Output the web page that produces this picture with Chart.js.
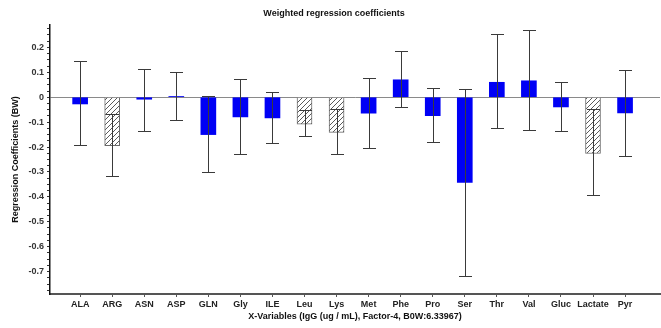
<!DOCTYPE html>
<html>
<head>
<meta charset="utf-8">
<script src="https://cdn.jsdelivr.net/npm/chart.js@4/dist/chart.umd.min.js"></script>
<style>
  html, body { margin: 0; padding: 0; background: #fff; }
  #wrap { width: 661px; height: 328px; position: relative; }
</style>
</head>
<body>
<div id="wrap"><canvas id="chart" width="661" height="328"></canvas></div>
<script>
// categories on the x axis
var variableNames = ['ALA', 'ARG', 'ASN', 'ASP', 'GLN', 'Gly', 'ILE', 'Leu', 'Lys',
    'Met', 'Phe', 'Pro', 'Ser', 'Thr', 'Val', 'Gluc', 'Lactate', 'Pyr'];

// weighted regression coefficients (bar heights)
var coefValues = [-0.027, -0.194, -0.008, 0.003, -0.150, -0.079, -0.083, -0.108, -0.141,
    -0.064, 0.070, -0.074, -0.342, 0.060, 0.066, -0.039, -0.226, -0.063];

// error bar ends
var errHigh = [0.145, -0.067, 0.115, 0.102, 0.003, 0.074, 0.023, -0.051, -0.049,
    0.078, 0.185, 0.038, 0.034, 0.253, 0.268, 0.060, -0.049, 0.111];
var errLow = [-0.193, -0.315, -0.134, -0.090, -0.300, -0.229, -0.185, -0.155, -0.228,
    -0.205, -0.041, -0.181, -0.718, -0.125, -0.131, -0.135, -0.393, -0.236];

// true = hatched (non significant) bar
var isHatched = [false, true, false, false, false, false, false, true, true,
    false, false, false, false, false, false, false, true, false];

var yTickLabels = [0.2, 0.1, 0, -0.1, -0.2, -0.3, -0.4, -0.5, -0.6, -0.7];

var fontFamily = '"Liberation Sans", Arial, sans-serif';

function makeHatch() {
    var c = document.createElement('canvas');
    c.width = 5;
    c.height = 5;
    var g = c.getContext('2d');
    g.fillStyle = '#ffffff';
    g.fillRect(0, 0, 5, 5);
    g.strokeStyle = '#5a5a5a';
    g.lineWidth = 1;
    g.beginPath();
    g.moveTo(-1, 6); g.lineTo(6, -1);
    g.moveTo(-1, 1); g.lineTo(1, -1);
    g.moveTo(4, 6); g.lineTo(6, 4);
    g.stroke();
    return g.createPattern(c, 'repeat');
}

var ctx = document.getElementById('chart').getContext('2d');
var hatch = makeHatch();

var barPoints = coefValues.map(function (v, i) { return { x: i, y: v }; });

// draws the error bars with the chart's own scales
var errorBarPlugin = {
    id: 'errorBars',
    afterDatasetsDraw: function (chart) {
        var xs = chart.scales.x;
        var ys = chart.scales.y;
        var c = chart.ctx;
        c.save();
        c.strokeStyle = '#3a3a3a';
        c.lineWidth = 1;
        for (var i = 0; i < coefValues.length; i++) {
            var px = Math.round(xs.getPixelForValue(i)) + 0.5;
            var pTop = Math.round(ys.getPixelForValue(errHigh[i])) + 0.5;
            var pBot = Math.round(ys.getPixelForValue(errLow[i])) + 0.5;
            c.beginPath();
            c.moveTo(px, pTop); c.lineTo(px, pBot);
            c.moveTo(px - 6.5, pTop); c.lineTo(px + 6.5, pTop);
            c.moveTo(px - 6.5, pBot); c.lineTo(px + 6.5, pBot);
            c.stroke();
        }
        c.restore();
    }
};

var chart = new Chart(ctx, {
    type: 'bar',
    data: {
        datasets: [{
            data: barPoints,
            backgroundColor: isHatched.map(function (h) { return h ? hatch : '#0000f5'; }),
            borderColor: isHatched.map(function (h) { return h ? '#6a6a6a' : '#0000f5'; }),
            borderWidth: isHatched.map(function (h) { return h ? 1 : 0; }),
            barThickness: 15
        }]
    },
    options: {
        responsive: false,
        animation: false,
        layout: { padding: { top: 25, right: 1, left: 10, bottom: 6 } },
        plugins: {
            legend: { display: false },
            tooltip: { enabled: false },
            title: { display: false }
        },
        scales: {
            x: {
                type: 'linear',
                offset: false,
                min: -0.94,
                max: 18.09,
                afterBuildTicks: function (scale) {
                    scale.ticks = variableNames.map(function (n, i) { return { value: i }; });
                },
                afterFit: function (scale) { scale.height = 28; },
                ticks: {
                    autoSkip: false,
                    maxRotation: 0,
                    padding: 2,
                    color: '#222',
                    font: { family: fontFamily, size: 9, weight: 'bold' },
                    callback: function (v) { return variableNames[v]; }
                },
                grid: {
                    offset: false,
                    drawOnChartArea: false,
                    tickLength: 3,
                    tickColor: '#555'
                },
                border: { color: '#555', width: 2 },
                title: {
                    display: true,
                    text: 'X-Variables (IgG (ug / mL), Factor-4, B0W:6.33967)',
                    color: '#111',
                    font: { family: fontFamily, size: 9, weight: 'bold' },
                    padding: { top: 0, bottom: 0 }
                }
            },
            y: {
                min: -0.79,
                max: 0.29,
                afterBuildTicks: function (scale) {
                    var t = [];
                    for (var k = -31; k <= 11; k++) t.push({ value: k * 0.025 });
                    scale.ticks = t;
                },
                afterFit: function (scale) { scale.width = 40; },
                ticks: {
                    autoSkip: false,
                    padding: 3,
                    color: '#333',
                    font: { family: fontFamily, size: 9, weight: 'bold' },
                    callback: function (v) {
                        var r = Math.round(v * 1000) / 1000;
                        for (var i = 0; i < yTickLabels.length; i++) {
                            if (Math.abs(yTickLabels[i] - r) < 1e-6) return String(yTickLabels[i]);
                        }
                        return '';
                    }
                },
                grid: {
                    drawOnChartArea: true,
                    color: function (c) {
                        return (c.tick && Math.abs(c.tick.value) < 1e-6) ? '#8a8a8a' : 'rgba(0,0,0,0)';
                    },
                    lineWidth: 1,
                    tickLength: 3,
                    tickColor: '#333'
                },
                border: { color: '#111', width: 1.5 },
                title: {
                    display: true,
                    text: 'Regression Coefficients (BW)',
                    color: '#111',
                    font: { family: fontFamily, size: 9, weight: 'bold' },
                    padding: { top: 0, bottom: 0 }
                }
            }
        }
    },
    plugins: [errorBarPlugin, {
        id: 'topTitle',
        afterDraw: function (chart) {
            var c = chart.ctx;
            c.save();
            c.fillStyle = '#111';
            c.font = 'bold 9px ' + fontFamily;
            c.textAlign = 'center';
            c.textBaseline = 'middle';
            c.fillText('Weighted regression coefficients', 334, 14);
            c.restore();
        }
    }]
});
</script>
</body>
</html>
